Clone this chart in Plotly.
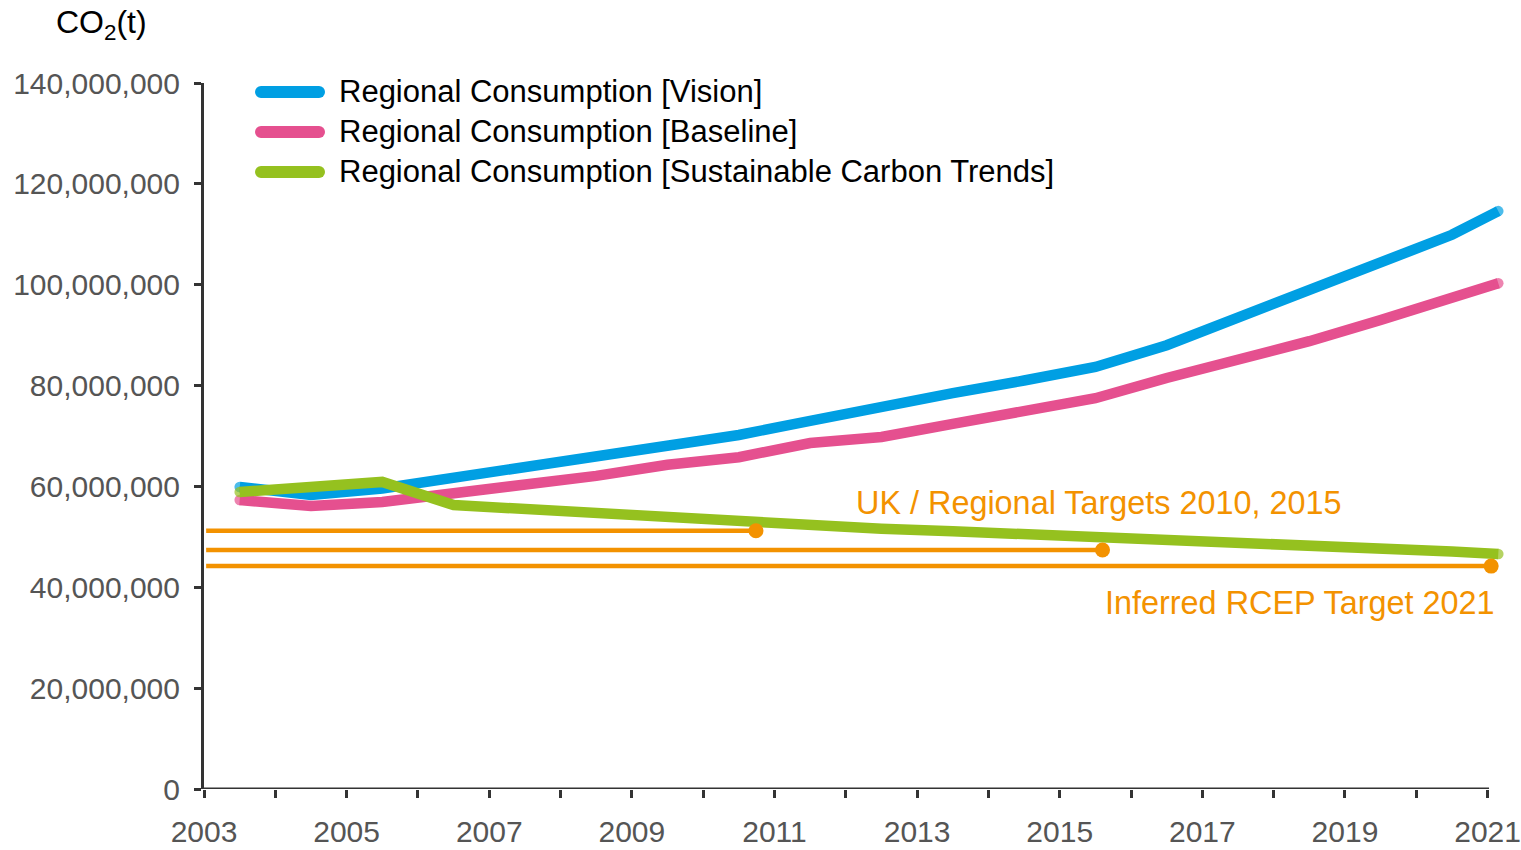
import plotly.graph_objects as go

# ---------------- data ----------------
x_pos = [2003.5, 2004.5, 2005.5, 2006.5, 2007.5, 2008.5, 2009.5, 2010.5, 2011.5,
         2012.5, 2013.5, 2014.5, 2015.5, 2016.5, 2017.5, 2018.5, 2019.5, 2020.5, 2021.15]

vision = [59.9, 58.3, 59.6, 61.7, 63.7, 65.8, 67.8, 70.2, 73.0, 75.9, 78.5, 81.0,
          83.7, 88.0, 93.4, 99.0, 104.7, 109.9, 114.6]
baseline = [57.3, 56.1, 56.9, 58.5, 60.1, 62.1, 64.3, 65.8, 68.6, 69.8, 72.4, 74.9,
            77.5, 81.5, 85.1, 88.8, 93.0, 97.4, 100.3]
sct = [58.9, 59.7, 60.9, 56.3, 55.5, 54.7, 53.7, 53.3, 52.3, 51.6, 51.1, 50.6,
       49.9, 49.4, 48.9, 48.4, 47.8, 47.1, 46.6]

target_end_pos = [2010.74, 2015.6, 2021.05]
target_values = [51.2, 47.4, 44.2]

series_names = ["Regional Consumption [Vision]",
                "Regional Consumption [Baseline]",
                "Regional Consumption [Sustainable Carbon Trends]"]

x_tick_labels = ["2003", "2005", "2007", "2009", "2011", "2013", "2015", "2017", "2019", "2021"]
x_minor_ticks = [2004, 2006, 2008, 2010, 2012, 2014, 2016, 2018, 2020]
y_tick_vals = [0, 20e6, 40e6, 60e6, 80e6, 100e6, 120e6, 140e6]
y_tick_text = ["0", "20,000,000", "40,000,000", "60,000,000", "80,000,000",
               "100,000,000", "120,000,000", "140,000,000"]

# ---------------- style ----------------
BLUE = "#009FE3"
PINK = "#E5508F"
GREEN = "#95C11F"
ORANGE = "#F39200"
AXIS = "#333333"
TICKTXT = "#555555"
FONT = "Liberation Sans, Arial, sans-serif"

W, H = 1521, 850
L, T, B = 204, 83, 61
X0, X1 = 2003, 2021.3
PX_PER_YEAR = 71.3
plot_w = (X1 - X0) * PX_PER_YEAR
R = W - L - plot_w
plot_h = H - T - B
LW = 10.5


def px_x(px):
    return (px - L) / plot_w


def px_y(py):
    return (H - B - py) / plot_h


fig = go.Figure()

for vals, col in zip([vision, baseline, sct], [BLUE, PINK, GREEN]):
    ends = [LW if i in (0, len(vals) - 1) else 0 for i in range(len(vals))]
    fig.add_trace(go.Scatter(
        x=x_pos, y=[v * 1e6 for v in vals], mode="lines+markers",
        line=dict(color=col, width=LW),
        marker=dict(color=col, size=ends, line=dict(width=0)),
        showlegend=False, hoverinfo="skip"))

for xe, v in zip(target_end_pos, target_values):
    fig.add_trace(go.Scatter(
        x=[X0 + 0.03, xe], y=[v * 1e6, v * 1e6], mode="lines",
        line=dict(color=ORANGE, width=4.5),
        showlegend=False, hoverinfo="skip"))
fig.add_trace(go.Scatter(
    x=target_end_pos, y=[v * 1e6 for v in target_values], mode="markers",
    marker=dict(color=ORANGE, size=15, opacity=1, line=dict(width=0)),
    showlegend=False, hoverinfo="skip"))

shapes = []
# x axis line from 2003 to 2021
shapes.append(dict(type="line", xref="x", yref="y", x0=X0 - 0.02, x1=2021.02, y0=0, y1=0,
                   line=dict(color=AXIS, width=3)))

# manual legend
legend_rows = [92, 132, 172]
for name, col, yy in zip(series_names, [BLUE, PINK, GREEN], legend_rows):
    shapes.append(dict(type="line", xref="paper", yref="paper",
                       x0=px_x(261), x1=px_x(319), y0=px_y(yy), y1=px_y(yy),
                       line=dict(color=col, width=12)))
    for cx in (261, 319):
        shapes.append(dict(type="circle", xref="paper", yref="paper",
                           xsizemode="pixel", ysizemode="pixel",
                           xanchor=px_x(cx), yanchor=px_y(yy),
                           x0=-6, x1=6, y0=-6, y1=6,
                           fillcolor=col, line=dict(width=0)))

annotations = []
for name, yy in zip(series_names, legend_rows):
    annotations.append(dict(text=name, xref="paper", yref="paper",
                            x=px_x(337), y=px_y(yy), xanchor="left", yanchor="middle",
                            showarrow=False, font=dict(family=FONT, size=31, color="#000000")))

annotations.append(dict(text="CO<sub>2</sub>(t)", xref="paper", yref="paper",
                        x=px_x(54), y=px_y(25), xanchor="left", yanchor="middle",
                        showarrow=False, font=dict(family=FONT, size=32, color="#000000")))
annotations.append(dict(text="UK / Regional Targets 2010, 2015", xref="paper", yref="paper",
                        x=px_x(854), y=px_y(503), xanchor="left", yanchor="middle",
                        showarrow=False, font=dict(family=FONT, size=32.4, color=ORANGE)))
annotations.append(dict(text="Inferred RCEP Target 2021", xref="paper", yref="paper",
                        x=px_x(1497), y=px_y(603), xanchor="right", yanchor="middle",
                        showarrow=False, font=dict(family=FONT, size=32.4, color=ORANGE)))

fig.update_layout(
    width=W, height=H,
    margin=dict(l=L, r=R, t=T, b=B, pad=0, autoexpand=False),
    paper_bgcolor="white", plot_bgcolor="white",
    shapes=shapes, annotations=annotations,
    xaxis=dict(range=[X0, X1], showgrid=False, zeroline=False, showline=False, automargin=False,
               tickmode="array", tickvals=[int(t) for t in x_tick_labels], ticktext=x_tick_labels,
               ticks="outside", ticklen=8, tickwidth=3, tickcolor=AXIS,
               minor=dict(tickmode="array", tickvals=x_minor_ticks,
                          ticks="outside", ticklen=8, tickwidth=3, tickcolor=AXIS),
               tickfont=dict(family=FONT, size=30, color=TICKTXT), ticklabelstandoff=8),
    yaxis=dict(range=[0, 140e6], showgrid=False, zeroline=False, showline=True, automargin=False,
               linecolor=AXIS, linewidth=3,
               tickmode="array", tickvals=y_tick_vals, ticktext=y_tick_text,
               ticks="outside", ticklen=7, tickwidth=3, tickcolor=AXIS,
               tickfont=dict(family=FONT, size=30, color=TICKTXT), ticklabelstandoff=8),
)

fig.write_html("out.html", config={"displayModeBar": False},
               post_script="document.body.style.margin='0';")
